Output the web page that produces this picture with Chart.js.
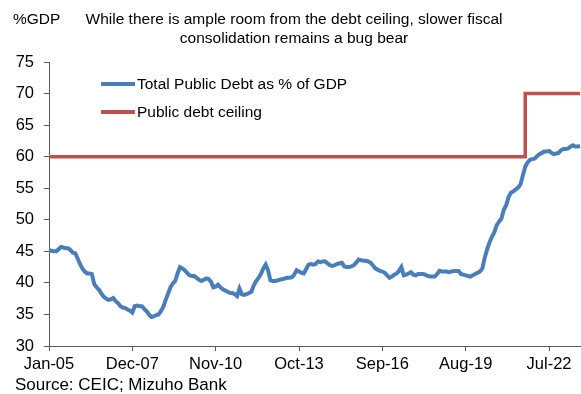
<!DOCTYPE html>
<html lang="en">
<head>
    <meta charset="UTF-8">
    <title>Public debt vs debt ceiling</title>
    <script src="https://cdn.jsdelivr.net/npm/chart.js"></script>
    <style>
        html, body { margin: 0; padding: 0; background: #fff; }
    </style>
</head>
<body>
<canvas id="debtChart" width="581" height="394"></canvas>

<script>
// Monthly series, Jan-05 to Aug-23
const monthNames = ['Jan','Feb','Mar','Apr','May','Jun','Jul','Aug','Sep','Oct','Nov','Dec'];
const firstYear = 2005;

// Total public debt, % of GDP (one row per year)
const debtRatio = [
    45.2, 45.1, 45.0, 45.0, 45.3, 45.7, 45.6, 45.5, 45.5, 45.2, 44.8, 44.7, // 2005
    43.9, 43.0, 42.3, 41.8, 41.5, 41.5, 41.4, 39.8, 39.3, 38.9, 38.3, 37.8, // 2006
    37.5, 37.3, 37.4, 37.6, 37.1, 36.8, 36.3, 36.1, 36.0, 35.8, 35.6, 35.3, // 2007
    36.3, 36.4, 36.3, 36.3, 35.9, 35.5, 35.0, 34.6, 34.7, 34.9, 35.0, 35.5, // 2008
    36.2, 37.3, 38.3, 39.3, 39.9, 40.3, 41.5, 42.5, 42.3, 42.0, 41.6, 41.2, // 2009
    41.1, 41.1, 40.8, 40.5, 40.3, 40.5, 40.7, 40.6, 40.2, 39.3, 39.4, 39.7, // 2010
    39.3, 39.0, 38.8, 38.6, 38.4, 38.4, 38.2, 37.9, 39.1, 38.2, 38.1, 38.2, // 2011
    38.4, 38.6, 39.6, 40.3, 40.8, 41.4, 42.3, 42.9, 42.0, 40.4, 40.3, 40.3, // 2012
    40.4, 40.5, 40.6, 40.7, 40.8, 40.8, 40.9, 41.3, 42.0, 41.8, 41.6, 41.5, // 2013
    42.2, 42.9, 43.0, 42.9, 43.0, 43.4, 43.3, 43.4, 43.4, 43.1, 42.8, 42.7, // 2014
    42.8, 43.0, 43.1, 43.2, 42.6, 42.5, 42.5, 42.6, 42.8, 43.2, 43.7, 43.6, // 2015
    43.5, 43.5, 43.4, 43.2, 42.8, 42.3, 42.1, 41.9, 41.8, 41.6, 41.2, 40.8, // 2016
    41.0, 41.3, 41.5, 41.9, 42.5, 41.2, 41.3, 41.5, 41.7, 41.3, 41.2, 41.4, // 2017
    41.4, 41.4, 41.3, 41.1, 41.0, 41.0, 41.0, 41.4, 41.9, 41.8, 41.8, 41.8, // 2018
    41.7, 41.8, 41.9, 41.9, 41.9, 41.4, 41.3, 41.2, 41.1, 41.0, 41.2, 41.4, // 2019
    41.6, 41.8, 42.3, 44.0, 45.3, 46.4, 47.3, 48.0, 49.1, 49.7, 50.2, 51.6, // 2020
    52.3, 53.6, 54.3, 54.5, 54.8, 55.1, 55.6, 57.0, 58.4, 59.1, 59.5, 59.6, // 2021
    59.7, 60.1, 60.4, 60.6, 60.8, 60.8, 60.9, 60.6, 60.4, 60.5, 60.6, 61.0, // 2022
    61.2, 61.2, 61.3, 61.6, 61.8, 61.6, 61.6, 61.7                          // 2023
];

// Debt ceiling: level changes
const ceilingDates = ['Jan-05', 'Sep-21', 'Aug-23'];
const ceilingLevels = [60, 70, 70];

const tickLabels = ['Jan-05', 'Dec-07', 'Nov-10', 'Oct-13', 'Sep-16', 'Aug-19', 'Jul-22'];

const titleLines = [
    'While there is ample room from the debt ceiling, slower fiscal',
    'consolidation remains a bug bear'
];
const unitLabel = '%GDP';
const sourceNote = 'Source: CEIC; Mizuho Bank';

const months = [];
for (let i = 0; i < debtRatio.length; i++) {
    const y = firstYear + Math.floor(i / 12);
    months.push(monthNames[i % 12] + '-' + String(y).slice(2));
}

const FONT = '"Liberation Sans", Arial, sans-serif';
const BLUE = '#4A7EBB';
const RED = '#C0504D';
const AXIS = '#595959';

// Title, unit, legend and source drawn on the canvas
const annotations = {
    id: 'annotations',
    afterDraw(chart) {
        const ctx = chart.ctx;
        ctx.save();
        ctx.fillStyle = '#000';
        ctx.font = '15.5px ' + FONT;
        ctx.textBaseline = 'alphabetic';
        ctx.textAlign = 'left';
        ctx.fillText(unitLabel, 13, 24);
        ctx.textAlign = 'center';
        ctx.fillText(titleLines[0], 294, 24);
        ctx.fillText(titleLines[1], 294, 43);

        ctx.textAlign = 'left';
        ctx.font = '17px ' + FONT;
        ctx.fillText(sourceNote, 15, 390);

        // legend inside the plot
        ctx.font = '15.5px ' + FONT;
        ctx.textBaseline = 'middle';
        chart.data.datasets.forEach((ds, i) => {
            const y = 84 + i * 28;
            ctx.strokeStyle = ds.borderColor;
            ctx.lineWidth = 4;
            ctx.beginPath();
            ctx.moveTo(101, y);
            ctx.lineTo(135, y);
            ctx.stroke();
            ctx.fillText(ds.label, 137, y + 1);
        });
        ctx.restore();
    }
};

const ctx = document.getElementById('debtChart').getContext('2d');
const debtChart = new Chart(ctx, {
    type: 'line',
    data: {
        labels: months,
        datasets: [
            {
                label: 'Total Public Debt as % of GDP',
                data: debtRatio,
                borderColor: BLUE,
                borderWidth: 4,
                pointRadius: 0,
                tension: 0
            },
            {
                label: 'Public debt ceiling',
                data: ceilingDates.map((d, i) => ({ x: d, y: ceilingLevels[i] })),
                borderColor: RED,
                borderWidth: 3.5,
                pointRadius: 0,
                stepped: 'before'
            }
        ]
    },
    options: {
        responsive: false,
        animation: false,
        layout: { padding: { top: 62, left: 9, right: 1, bottom: 18 } },
        plugins: {
            legend: { display: false },
            tooltip: { enabled: false }
        },
        scales: {
            x: {
                grid: { drawOnChartArea: false, tickLength: 5, color: AXIS },
                border: { color: AXIS, width: 1 },
                ticks: {
                    autoSkip: false,
                    maxRotation: 0,
                    padding: 4,
                    color: '#000',
                    font: { family: FONT, size: 16.5 },
                    callback: function (v) {
                        const lab = this.getLabelForValue(v);
                        return tickLabels.includes(lab) ? lab : null;
                    }
                },
                afterFit(scale) { scale.height = 30; }
            },
            y: {
                min: 30,
                max: 75,
                grid: { drawOnChartArea: false, tickLength: 5, color: AXIS },
                border: { color: AXIS, width: 1 },
                ticks: {
                    stepSize: 5,
                    padding: 10,
                    color: '#000',
                    font: { family: FONT, size: 16.5 }
                },
                afterFit(scale) { scale.width = 40; }
            }
        }
    },
    plugins: [annotations]
});
</script>
</body>
</html>
